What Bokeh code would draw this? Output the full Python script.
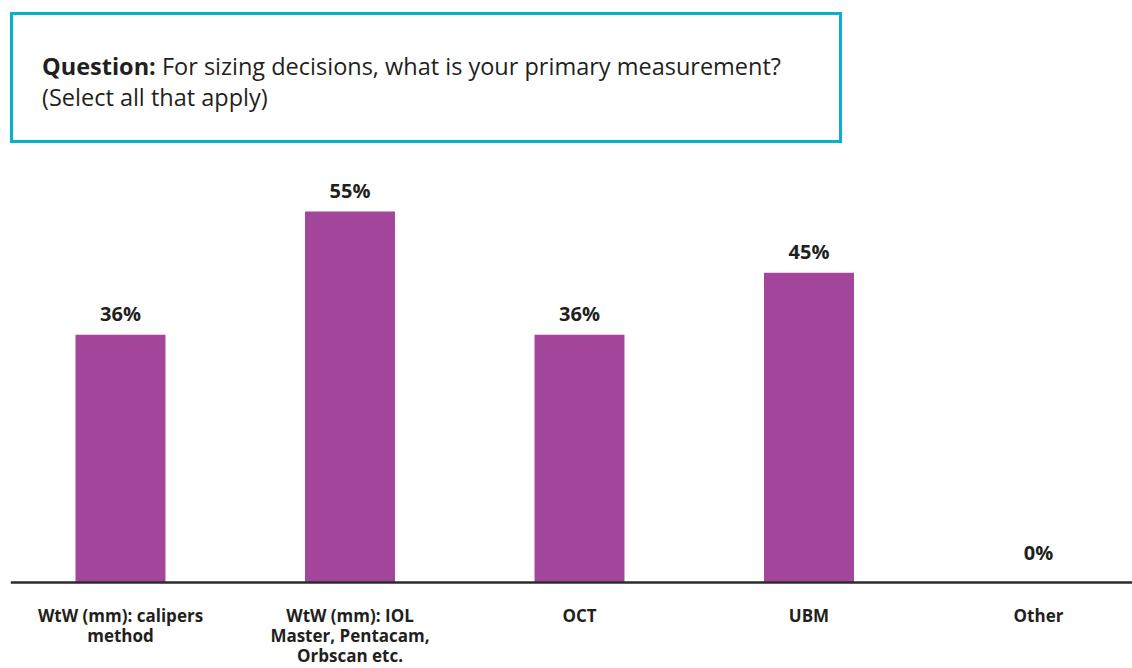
from bokeh.plotting import figure
from bokeh.models import Range1d, Span, Div, ColumnDataSource
from bokeh.layouts import column
from bokeh.core.properties import value
from bokeh.embed import file_html
from bokeh.resources import INLINE

categories = ["WtW (mm): calipers\nmethod", "WtW (mm): IOL\nMaster, Pentacam,\nOrbscan etc.", "OCT", "UBM", "Other"]
values = [36.4, 54.5, 36.4, 45.5, 0.0]
value_labels = ["36%", "55%", "36%", "45%", "0%"]
positions = list(range(len(categories)))

question_bold = "Question:"
question_text = "For sizing decisions, what is your primary measurement?<br>(Select all that apply)"

FONT = "Open Sans"
TEXT_COLOR = "#231F20"
BAR_COLOR = "#A3459A"

header = Div(
    text=(
        f'<div style="margin:12px 0 0 10px; width:832px; height:131px; box-sizing:border-box;'
        f' border:3px solid #0AAECF; padding:36px 0 0 29px; font-family:\'{FONT}\', sans-serif;'
        f' font-size:23.5px; line-height:31px; color:{TEXT_COLOR}; white-space:nowrap;">'
        f'<b>{question_bold}</b> {question_text}</div>'
    ),
    width=1132, height=160, margin=(0, 0, 0, 0),
)

label_offsets = [-30 if v == 0 else -21 for v in values]
src = ColumnDataSource(dict(x=positions, top=values, lab=value_labels, cat=categories,
                            zero=[0] * len(values), off=label_offsets))

p = figure(width=1132, height=508, output_backend="svg", toolbar_location=None,
           x_range=Range1d(-0.4793, 4.4096), y_range=Range1d(-12.63, 62),
           x_axis_location=None, y_axis_location=None,
           min_border_left=10, min_border_right=0, min_border_top=0, min_border_bottom=0)
p.outline_line_color = None
p.xgrid.visible = False
p.ygrid.visible = False
p.background_fill_color = "white"
p.border_fill_color = "white"
p.margin = (0, 0, 0, 0)

p.vbar(x="x", top="top", bottom=0, width=0.392, source=src, fill_color=BAR_COLOR, line_color=None)

p.add_layout(Span(location=0, dimension="width", line_color="#2B2B2B", line_width=2.5))

p.text(x="x", y="top", text="lab", source=src, text_align="center", text_baseline="middle",
       y_offset="off", text_font=value(FONT), text_font_style="bold", text_font_size="20px",
       text_color=TEXT_COLOR)

p.text(x="x", y="zero", text="cat", source=src, text_align="center", text_baseline="top",
       y_offset=21, text_font=value(FONT), text_font_style="bold", text_font_size="17px",
       text_line_height=0.88, text_color=TEXT_COLOR)

layout = column(header, p, spacing=0, margin=(0, 0, 0, 0))
open("out.html", "w").write(file_html(layout, INLINE))
